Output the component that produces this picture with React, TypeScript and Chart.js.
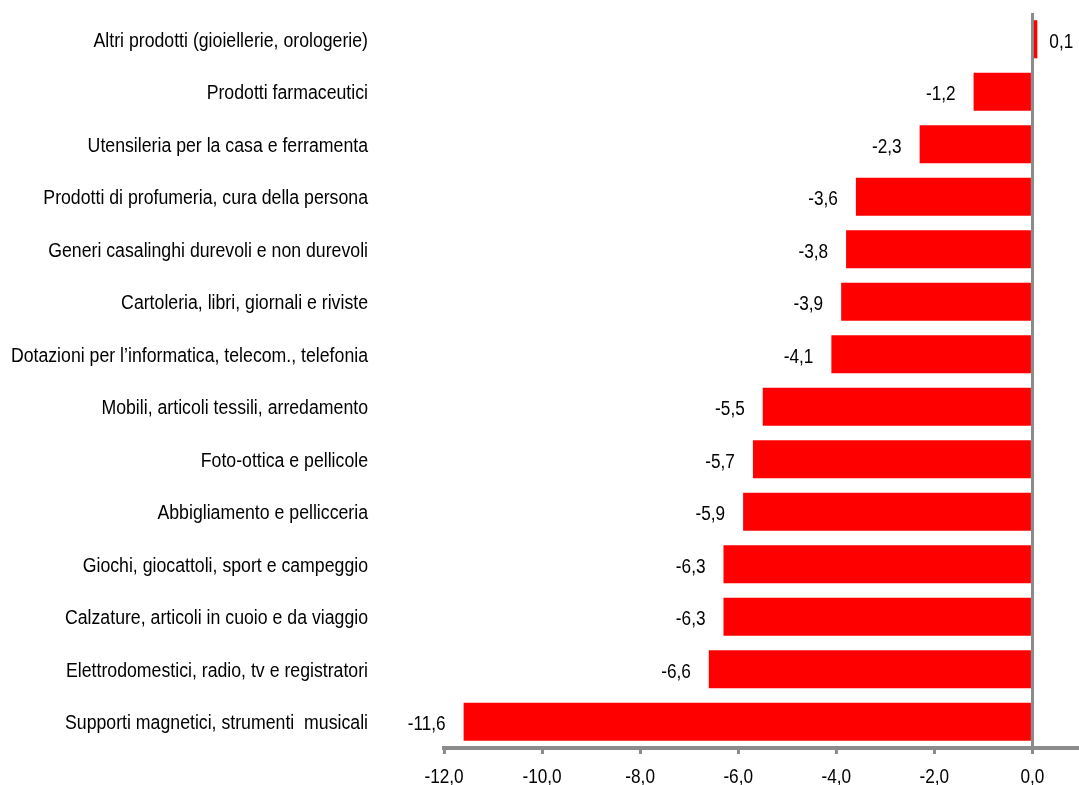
import React, { useEffect, useRef } from "react";
import { Chart, registerables } from "chart.js";

Chart.register(...registerables);

const categories: string[] = [
  "Altri prodotti (gioiellerie, orologerie)",
  "Prodotti farmaceutici",
  "Utensileria per la casa e ferramenta",
  "Prodotti di profumeria, cura della persona",
  "Generi casalinghi durevoli e non durevoli",
  "Cartoleria, libri, giornali e riviste",
  "Dotazioni per l\u2019informatica, telecom., telefonia",
  "Mobili, articoli tessili, arredamento",
  "Foto-ottica e pellicole",
  "Abbigliamento e pellicceria",
  "Giochi, giocattoli, sport e campeggio",
  "Calzature, articoli in cuoio e da viaggio",
  "Elettrodomestici, radio, tv e registratori",
  "Supporti magnetici, strumenti  musicali",
];

const values: number[] = [0.1, -1.2, -2.3, -3.6, -3.8, -3.9, -4.1, -5.5, -5.7, -5.9, -6.3, -6.3, -6.6, -11.6];

const xTicks: number[] = [-12, -10, -8, -6, -4, -2, 0];

const FONT = '"Liberation Sans", Arial, sans-serif';
const GRAY = "#8c8c8c";
const fmt = (v: number) => v.toFixed(1).replace(".", ",");

function narrowText(ctx: any, text: string, x: number, y: number, align: string, sx: number) {
  ctx.save();
  ctx.translate(x, y);
  ctx.scale(sx, 1);
  ctx.textAlign = align;
  ctx.fillText(text, 0, 0);
  ctx.restore();
}

const narrowLabels = {
  id: "narrowLabels",
  afterDraw(chart: any) {
    const ctx = chart.ctx;
    const meta = chart.getDatasetMeta(0);
    const xs = chart.scales.x;
    const ys = chart.scales.y;
    ctx.save();
    ctx.font = `20px ${FONT}`;
    ctx.fillStyle = "#000";
    ctx.textBaseline = "middle";
    meta.data.forEach((el: any, i: number) => {
      const v = values[i];
      if (v < 0) narrowText(ctx, fmt(v), el.x - 18, el.y + 3, "right", 0.86);
      else narrowText(ctx, fmt(v), el.x + 12, el.y + 3, "left", 0.86);
    });
    categories.forEach((c, i) => {
      narrowText(ctx, c, 368, ys.getPixelForValue(i) + 2, "right", 0.885);
    });
    xs.ticks.forEach((t: any) => {
      narrowText(ctx, fmt(t.value), xs.getPixelForValue(t.value), xs.top + 29, "center", 0.86);
    });
    ctx.restore();
  },
};

export default function App() {
  const ref = useRef<HTMLCanvasElement>(null);
  useEffect(() => {
    document.body.style.margin = "0";
    const chart = new Chart(ref.current!, {
      type: "bar",
      data: {
        labels: categories,
        datasets: [
          {
            data: values,
            backgroundColor: "#ff0000",
            borderWidth: 0,
            barPercentage: 0.725,
            categoryPercentage: 1,
          },
        ],
      },
      options: {
        indexAxis: "y",
        animation: false,
        responsive: false,
        maintainAspectRatio: false,
        layout: { padding: { top: 13, right: 0, left: 0, bottom: 0 } },
        plugins: { legend: { display: false }, tooltip: { enabled: false } },
        scales: {
          x: {
            min: -12,
            max: 0.95,
            afterBuildTicks: (scale: any) => {
              scale.ticks = xTicks.map((v) => ({ value: v }));
            },
            afterFit: (scale: any) => {
              scale.height = 37;
            },
            grid: {
              color: (c: any) => (c.tick && c.tick.value === 0 ? GRAY : "transparent"),
              lineWidth: 3,
              tickColor: GRAY,
              tickLength: 6,
              tickWidth: 3,
            },
            border: { color: GRAY, width: 4 },
            ticks: {
              color: "transparent",
              font: { family: FONT, size: 10 },
              padding: 0,
              maxRotation: 0,
              callback: (v: any) => fmt(Number(v)),
            },
          },
          y: {
            afterFit: (scale: any) => {
              scale.width = 444;
            },
            grid: { display: false, drawTicks: false },
            border: { display: false },
            ticks: { display: false, autoSkip: false },
          },
        },
      },
      plugins: [narrowLabels],
    });
    return () => chart.destroy();
  }, []);
  return (
    <div style={{ width: "1079px", height: "785px", overflow: "hidden", background: "#fff" }}>
      <canvas ref={ref} width={1079} height={785} style={{ display: "block" }} />
    </div>
  );
}
